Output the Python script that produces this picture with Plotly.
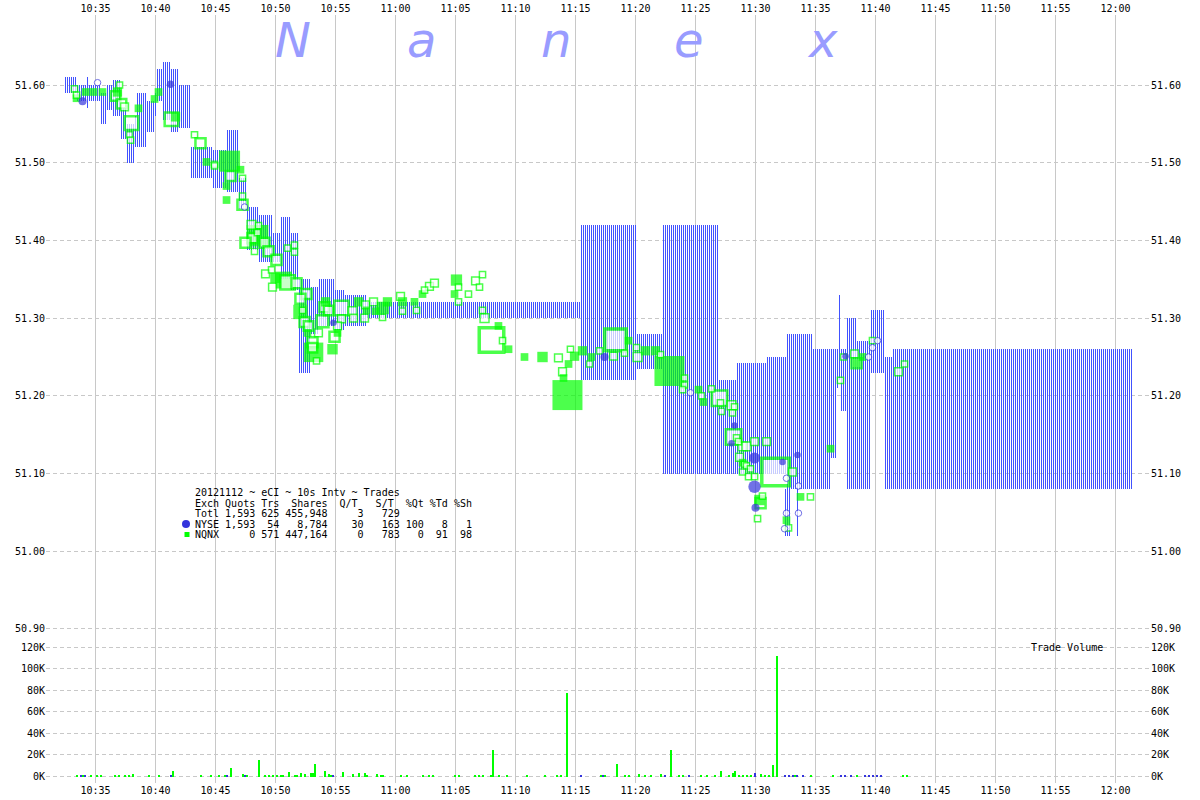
import plotly.graph_objects as go
import math

# ---------------- data ----------------
# time axis: minutes after 10:00
TICK_VALS = [35, 40, 45, 50, 55, 60, 65, 70, 75, 80, 85, 90, 95, 100, 105, 110, 115, 120]
TICK_TEXT = ["10:35", "10:40", "10:45", "10:50", "10:55", "11:00", "11:05", "11:10", "11:15",
             "11:20", "11:25", "11:30", "11:35", "11:40", "11:45", "11:50", "11:55", "12:00"]
PRICE_TICKS = [50.90, 51.00, 51.10, 51.20, 51.30, 51.40, 51.50, 51.60]
VOL_TICKS = [0, 20000, 40000, 60000, 80000, 100000, 120000]
VOL_TEXT = ["0K", "20K", "40K", "60K", "80K", "100K", "120K"]

# quote ranges per 10s interval, given as runs: (start_min, end_min, low, high)
QUOTE_RUNS = [
    (32.58, 33.42, 51.590, 51.610), (33.42, 34.33, 51.580, 51.600), (34.33, 34.50, 51.570, 51.610),
    (34.50, 35.50, 51.580, 51.600), (35.50, 36.00, 51.550, 51.590), (36.00, 36.50, 51.568, 51.600),
    (36.50, 37.17, 51.560, 51.606), (37.17, 37.75, 51.530, 51.570), (37.75, 38.33, 51.500, 51.550),
    (38.33, 38.58, 51.520, 51.560), (38.58, 39.33, 51.520, 51.590), (39.33, 40.00, 51.540, 51.580),
    (40.00, 40.17, 51.560, 51.590), (40.17, 40.67, 51.580, 51.620), (40.67, 41.25, 51.555, 51.630),
    (41.25, 42.08, 51.540, 51.620), (42.08, 43.08, 51.545, 51.600), (43.08, 44.83, 51.480, 51.520),
    (44.83, 46.00, 51.468, 51.516), (46.00, 47.08, 51.462, 51.542), (47.08, 47.67, 51.440, 51.480),
    (47.67, 48.75, 51.388, 51.443), (48.75, 49.83, 51.372, 51.433), (49.83, 50.42, 51.372, 51.410),
    (50.42, 51.25, 51.350, 51.430), (51.25, 51.92, 51.336, 51.410), (51.92, 53.08, 51.230, 51.350),
    (53.08, 53.75, 51.280, 51.340), (53.75, 55.00, 51.290, 51.350), (55.00, 55.83, 51.285, 51.336),
    (55.83, 57.75, 51.290, 51.330),
    (57.75, 75.42, 51.300, 51.321), (75.42, 80.17, 51.220, 51.420), (80.17, 82.25, 51.235, 51.280),
    (82.25, 87.00, 51.100, 51.420), (87.00, 88.58, 51.100, 51.220), (88.58, 91.00, 51.100, 51.242),
    (91.00, 92.67, 51.100, 51.250), (92.67, 94.83, 51.080, 51.280), (94.83, 96.25, 51.080, 51.260),
    (96.25, 96.83, 51.120, 51.260), (96.83, 97.00, 51.210, 51.260), (97.00, 97.17, 51.220, 51.330),
    (97.17, 97.75, 51.180, 51.260), (97.75, 98.58, 51.080, 51.300), (98.58, 99.67, 51.080, 51.270),
    (99.67, 100.83, 51.230, 51.310), (100.83, 101.50, 51.080, 51.250), (101.50, 121.50, 51.080, 51.260),
    (89.92, 90.08, 51.030, 51.100), (92.58, 92.92, 51.020, 51.080), (93.50, 93.67, 51.020, 51.080),
]

# NQNX trades: time (min after 10:00), price, shares, filled (1) / open (0)
NQNX_T = [33.25, 33.42, 33.42, 34.17, 34.83, 35.58, 36.67, 36.83, 37.00, 37.17, 37.42, 38.58, 38.00, 37.83, 37.92,
          39.92, 40.25, 41.33, 41.67, 43.25, 43.75, 44.25, 44.92, 44.92, 46.17, 47.08, 46.25, 47.25, 45.92, 45.92,
          47.25, 47.25, 48.00,
          48.50, 48.08, 48.58, 48.50, 47.50, 48.25, 49.08, 49.42, 50.08, 49.17, 49.67, 50.00, 50.67, 51.00, 51.75,
          49.75, 51.00, 51.58, 51.58, 52.58, 52.08, 52.08, 52.25, 52.42, 52.75, 52.67, 53.58, 53.17, 53.08, 53.42,
          53.08, 54.75, 54.92, 55.17, 53.92, 54.08, 54.17, 54.42, 55.50, 55.50, 55.17, 56.42, 56.50, 56.92, 57.42,
          57.50, 57.58, 58.17, 58.33, 58.92, 58.92, 59.33, 60.42, 60.58, 60.58, 61.58, 61.75, 62.25, 62.42, 62.83,
          63.25, 65.08, 64.92, 65.25, 65.25, 66.08, 66.67, 67.25, 67.00, 67.25, 67.42, 68.00, 68.58, 68.92, 69.42,
          70.75, 72.25,
          73.58, 73.92, 74.00, 74.42, 74.58, 74.92, 75.58, 76.17, 76.33, 74.33, 77.00, 78.17, 78.33, 79.42, 79.08,
          80.08, 80.17, 80.83, 81.67, 82.08, 82.83, 84.08, 84.08, 83.92,
          85.25, 85.50, 85.67, 86.33, 87.00, 87.08, 87.17, 88.00, 88.25, 88.08, 88.17, 88.42, 88.58, 88.92, 89.25,
          89.92, 90.92, 88.67, 88.92, 89.08, 89.25, 88.92, 89.42, 89.92, 89.58, 91.67, 93.08, 90.42, 90.33, 90.58,
          90.17, 93.75, 94.58, 92.58, 92.75, 96.25,
          97.08, 97.33, 98.25, 98.42, 98.42, 98.92, 99.75, 101.92, 102.42]
NQNX_P = [51.595, 51.583, 51.587, 51.591, 51.591, 51.591, 51.586, 51.591, 51.600, 51.576, 51.572, 51.570, 51.551, 51.536, 51.529,
          51.582, 51.591, 51.556, 51.559, 51.536, 51.525, 51.501, 51.498, 51.496, 51.502, 51.491, 51.483, 51.480, 51.470, 51.452,
          51.457, 51.446, 51.420,
          51.406, 51.403, 51.419, 51.410, 51.397, 51.386, 51.397, 51.386, 51.375, 51.357, 51.362, 51.352, 51.349, 51.346, 51.345,
          51.340, 51.390, 51.394, 51.385, 51.331, 51.325, 51.308, 51.310, 51.295, 51.290, 51.281, 51.281, 51.256, 51.262, 51.245,
          51.269, 51.260, 51.276, 51.281, 51.296, 51.314, 51.321, 51.310, 51.313, 51.299, 51.290, 51.309, 51.300, 51.321, 51.300,
          51.317, 51.310, 51.321, 51.309, 51.313, 51.301, 51.321, 51.328, 51.321, 51.309, 51.321, 51.310, 51.331, 51.336, 51.341,
          51.345, 51.349, 51.331, 51.340, 51.321, 51.331, 51.348, 51.356, 51.340, 51.310, 51.300, 51.272, 51.290, 51.271, 51.260,
          51.250, 51.250,
          51.249, 51.231, 51.223, 51.241, 51.260, 51.251, 51.258, 51.241, 51.250, 51.201, 51.258, 51.251, 51.272, 51.271, 51.255,
          51.262, 51.250, 51.258, 51.258, 51.253, 51.232, 51.223, 51.214, 51.208,
          51.208, 51.200, 51.192, 51.209, 51.197, 51.191, 51.180, 51.188, 51.186, 51.178, 51.147, 51.146, 51.141, 51.135, 51.135,
          51.141, 51.141, 51.121, 51.114, 51.112, 51.110, 51.102, 51.096, 51.096, 51.106, 51.102, 51.102, 51.062, 51.066, 51.071,
          51.042, 51.070, 51.070, 51.040, 51.030, 51.132,
          51.220, 51.250, 51.254, 51.242, 51.242, 51.250, 51.271, 51.231, 51.241]
NQNX_SH = [100, 100, 100, 100, 100, 100, 500, 200, 100, 500, 200, 100, 1600, 100, 100,
           100, 100, 1600, 200, 100, 600, 100, 100, 100, 6000, 100, 600, 100, 100, 100,
           100, 600, 300,
           7000, 600, 100, 100, 600, 100, 600, 600, 600, 200, 100, 300, 2000, 2000, 600,
           200, 100, 100, 100, 600, 600, 1000, 100, 600, 500, 100, 200, 4000, 500, 100,
           600, 300, 600, 100, 1000, 600, 200, 500, 2000, 200, 200, 300, 200, 200, 200,
           200, 100, 200, 100, 600, 100, 200, 200, 200, 100, 100, 100, 100, 100, 200,
           200, 400, 100, 100, 100, 100, 200, 100, 100, 100, 300, 36000, 100, 100, 100,
           100, 300,
           200, 200, 100, 100, 100, 200, 200, 100, 100, 60000, 100, 200, 17000, 100, 100,
           100, 300, 200, 200, 100, 60000, 100, 100, 100,
           100, 100, 100, 100, 2700, 100, 100, 300, 100, 100, 2700, 100, 100, 300, 300,
           200, 200, 200, 100, 100, 100, 100, 100, 100, 100, 100000, 200, 600, 300, 100,
           100, 100, 100, 100, 100, 100,
           100, 100, 200, 600, 100, 100, 100, 200, 100]
NQNX_FILL = [0, 1, 0, 1, 1, 1, 0, 1, 0, 0, 0, 1, 0, 0, 0,
             1, 1, 0, 1, 0, 0, 1, 0, 0, 1, 1, 0, 0, 1, 1,
             0, 0, 0,
             1, 0, 0, 0, 0, 0, 0, 0, 0, 0, 0, 1, 1, 0, 0,
             0, 0, 0, 0, 0, 0, 1, 0, 0, 0, 1, 0, 1, 0, 0,
             0, 1, 0, 1, 0, 0, 1, 0, 0, 0, 0, 0, 0, 1, 0,
             0, 1, 0, 1, 1, 0, 1, 0, 1, 0, 1, 0, 1, 0, 0,
             0, 1, 1, 0, 0, 0, 0, 0, 0, 0, 0, 0, 1, 0, 1,
             1, 1,
             0, 0, 1, 1, 0, 1, 1, 0, 1, 1, 0, 0, 0, 1, 0,
             0, 0, 1, 1, 0, 1, 0, 0, 0,
             1, 0, 1, 0, 0, 0, 0, 0, 0, 0, 0, 0, 0, 0, 0,
             0, 0, 0, 1, 0, 0, 0, 0, 0, 0, 0, 0, 0, 1, 0,
             0, 1, 0, 1, 0, 1,
             0, 0, 0, 0, 1, 1, 0, 0, 0]

# NYSE trades
NYSE_T = [33.92, 35.17, 41.25, 47.42, 54.83, 77.42, 84.58, 88.25, 88.00, 89.92, 89.92, 90.00,
          92.25, 93.50, 92.58, 93.58, 92.58, 93.58, 92.42, 97.50, 99.42, 99.75, 100.17]
NYSE_P = [51.579, 51.603, 51.601, 51.443, 51.294, 51.250, 51.204, 51.162, 51.139, 51.120, 51.083, 51.056,
          51.115, 51.124, 51.094, 51.084, 51.049, 51.049, 51.029, 51.251, 51.250, 51.262, 51.271]
NYSE_SH = [300, 100, 200, 100, 100, 300, 100, 100, 100, 1500, 3000, 300,
           100, 100, 100, 100, 100, 100, 100, 100, 100, 100, 100]
NYSE_FILL = [1, 0, 1, 0, 1, 1, 0, 1, 1, 1, 1, 1,
             1, 1, 0, 0, 0, 0, 0, 1, 0, 0, 0]

# trade volume per 10s interval
VOL_Q_T = [33.50, 34.00, 34.67, 35.17, 35.50, 36.67, 37.00, 37.50, 37.83, 38.17, 39.50, 40.33, 41.50,
           43.83, 44.67, 45.33, 45.83, 46.33, 47.33, 47.67, 48.67, 49.17, 49.50, 49.83, 50.17, 50.50, 50.67,
           51.17, 51.67, 51.83, 52.17, 52.50, 53.00, 53.17, 53.33, 54.17, 54.50, 54.67, 55.67, 56.50, 57.00,
           57.50, 57.67, 58.50, 58.83, 59.00, 60.50, 61.00, 62.33, 62.83, 63.17, 65.00, 65.33, 66.67, 67.00,
           67.33, 68.00, 68.17, 68.67, 69.33, 71.00, 72.50, 73.50, 73.83, 74.33, 77.17, 77.50, 78.50, 79.17,
           79.50, 80.33, 80.83, 81.33, 82.17, 83.00, 83.67, 84.00, 84.50, 85.50, 86.00, 86.67, 87.17, 87.83,
           88.17, 88.33, 88.67, 89.00, 89.33, 89.67, 90.50, 90.83, 91.17, 91.50, 91.83, 93.33, 94.67, 96.50,
           98.50, 102.33, 102.67]
VOL_Q_V = [600, 600, 600, 700, 600, 1800, 800, 1000, 1500, 2000, 600, 600, 5500,
           1000, 600, 600, 700, 7500, 2000, 1000, 15000, 1500, 1500, 1500, 1500, 1500, 1000,
           4500, 1500, 1500, 3500, 2000, 3000, 3000, 12000, 5500, 2000, 1500, 4500, 2000, 3500,
           3500, 1500, 2000, 1500, 1500, 600, 600, 600, 600, 600, 600, 600, 1000, 600,
           600, 1500, 25000, 600, 600, 600, 600, 600, 1500, 77000, 600, 600, 12000, 600,
           600, 2000, 600, 600, 2000, 25000, 600, 600, 600, 600, 600, 600, 5500, 1500,
           3000, 5000, 600, 1500, 1500, 600, 2000, 600, 600, 10500, 112000, 600, 600, 600,
           1500, 600, 600]
VOL_N_T = [33.83, 34.17, 41.33, 46.00, 47.50, 54.83, 75.50, 77.33, 82.50, 84.50, 90.00, 92.50, 92.83,
           93.17, 93.50, 94.00, 97.17, 97.50, 98.00, 99.17, 99.50, 99.83, 100.17, 100.50]
VOL_N_V = [600, 600, 500, 600, 600, 600, 600, 600, 600, 600, 3000, 600, 600,
           600, 600, 600, 600, 600, 600, 600, 600, 600, 600, 600]

LEGEND_LINES = [
    "20121112 ~ eCI ~ 10s Intv ~ Trades",
    "Exch Quots Trs  Shares  Q/T   S/T  %Qt %Td %Sh",
    "Totl 1,593 625 455,948     3   729",
    "NYSE 1,593  54   8,784    30   163 100   8   1",
    "NQNX     0 571 447,164     0   783   0  91  98",
]
WATERMARK = ["N", "a", "n", "e", "x"]

# ---------------- styling / geometry ----------------
W, H = 1200, 800
ML, MR, MT, MB = 46, 50, 15, 17
PW, PH = W - ML - MR, H - MT - MB
X0, X1 = 30.875, 122.875
SPLIT = (783 - 638) / PH
P0, P1 = 50.8884, 51.6901
V0, V1 = -6020, 128360

GREEN = "#00ff00"
QBLUE = "#4152ff"
NBLUE = "#3434dc"
GRID = "#c8c8c8"
MONO = "DejaVu Sans Mono"

def px_to_paper(x, y):
    return (x - ML) / PW, (H - MB - y) / PH

fig = go.Figure()

# quote ranges as thin bars (one per 10s interval)
qx, qlo, qh = [], [], []
for s, e, lo, hi in QUOTE_RUNS:
    for k in range(round(s * 6), round(e * 6)):
        qx.append(k / 6)
        qlo.append(lo)
        qh.append(hi - lo)
fig.add_trace(go.Bar(x=qx, y=qh, base=qlo, width=1 / 12,
                     marker=dict(color=QBLUE, line=dict(width=0)),
                     hoverinfo="skip", xaxis="x", yaxis="y"))

# NQNX trades (bigger first)
def sq_size(sh):
    return min(31.0, 5 + 9 * math.log10(1 + sh / 100))

order = sorted(range(len(NQNX_T)), key=lambda i: -NQNX_SH[i])
xs, ys, sizes, fills, lws = [], [], [], [], []
for i in order:
    s = sq_size(NQNX_SH[i])
    if NQNX_FILL[i]:
        lw = 0
        fills.append(GREEN)
    else:
        lw = 1.5 if s < 12 else (2.5 if s < 22 else 3.5)
        fills.append("white")
    xs.append(NQNX_T[i]); ys.append(NQNX_P[i]); sizes.append(s - lw); lws.append(lw)
fig.add_trace(go.Scatter(x=xs, y=ys, mode="markers", hoverinfo="skip", xaxis="x", yaxis="y",
                         marker=dict(symbol="square", size=sizes, color=fills,
                                     line=dict(color=GREEN, width=lws))))

# NYSE trades
ny_sizes = [5 + 5 * math.log10(1 + v / 100) for v in NYSE_SH]
fig.add_trace(go.Scatter(x=NYSE_T, y=NYSE_P, mode="markers", hoverinfo="skip", xaxis="x", yaxis="y",
                         marker=dict(symbol="circle", size=ny_sizes,
                                     color=[NBLUE if f else "white" for f in NYSE_FILL],
                                     line=dict(color=NBLUE, width=[0 if f else 1 for f in NYSE_FILL]))))

# volume bars
fig.add_trace(go.Bar(x=[round(t * 6) / 6 for t in VOL_Q_T], y=VOL_Q_V, width=1 / 6, offset=-0.125,
                     marker=dict(color=GREEN, line=dict(width=0)), hoverinfo="skip",
                     xaxis="x", yaxis="y2"))
fig.add_trace(go.Bar(x=[round(t * 6) / 6 for t in VOL_N_T], y=VOL_N_V, width=1 / 6, offset=-0.125,
                     marker=dict(color=NBLUE, line=dict(width=0)), hoverinfo="skip",
                     xaxis="x", yaxis="y2"))

# empty traces for the mirrored axes
fig.add_trace(go.Scatter(x=[], y=[], xaxis="x2", yaxis="y", hoverinfo="skip"))
fig.add_trace(go.Scatter(x=[], y=[], xaxis="x", yaxis="y3", hoverinfo="skip"))
fig.add_trace(go.Scatter(x=[], y=[], xaxis="x", yaxis="y4", hoverinfo="skip"))

tickfont = dict(family=MONO, size=10, color="black")
common_x = dict(range=[X0, X1], tickvals=TICK_VALS, ticktext=TICK_TEXT, tickfont=tickfont,
                zeroline=False, showline=False, ticks="", fixedrange=True, automargin=False)
common_y = dict(tickfont=tickfont, ticks="", zeroline=False, showline=False, automargin=False)
fig.update_layout(
    width=W, height=H, margin=dict(l=ML, r=MR, t=MT, b=MB, autoexpand=False),
    paper_bgcolor="white", plot_bgcolor="white", showlegend=False, barmode="overlay", bargap=0,
    xaxis=dict(common_x, domain=[0, 1], anchor="y2", side="bottom",
               showgrid=True, gridcolor=GRID, gridwidth=1),
    xaxis2=dict(common_x, overlaying="x", anchor="y", side="top", showgrid=False),
    yaxis=dict(common_y, domain=[SPLIT, 1], range=[P0, P1], anchor="x", tickvals=PRICE_TICKS,
               ticktext=[f"{v:.2f}" for v in PRICE_TICKS],
               showgrid=True, gridcolor=GRID, griddash="4px,3px", gridwidth=1),
    yaxis2=dict(common_y, domain=[0, SPLIT], range=[V0, V1], anchor="x", tickvals=VOL_TICKS,
                ticktext=VOL_TEXT,
                showgrid=True, gridcolor=GRID, griddash="4px,3px", gridwidth=1),
    yaxis3=dict(common_y, overlaying="y", side="right", anchor="x", range=[P0, P1], tickvals=PRICE_TICKS,
                ticktext=[f"{v:.2f}" for v in PRICE_TICKS], showgrid=False),
    yaxis4=dict(common_y, overlaying="y2", side="right", anchor="x", range=[V0, V1], tickvals=VOL_TICKS,
                ticktext=VOL_TEXT, showgrid=False),
)

annotations = []
# watermark
for letter, cx in zip(WATERMARK, [293, 421, 556, 689, 822]):
    ax, ay = px_to_paper(cx, 40)
    annotations.append(dict(text=letter, x=ax, y=ay, xref="paper", yref="paper", showarrow=False,
                            xanchor="center", yanchor="middle",
                            font=dict(family="DejaVu Sans", size=48, color="#999cff", style="italic")))
# legend block
for line, cy in zip(LEGEND_LINES, [492, 503, 513.5, 524, 534.5]):
    ax, ay = px_to_paper(193, cy)
    annotations.append(dict(text=line.replace(" ", "\u00a0"), x=ax, y=ay, xref="paper", yref="paper",
                            showarrow=False, xanchor="left", yanchor="middle",
                            font=dict(family=MONO, size=10, color="black")))
ax, ay = px_to_paper(1067, 647)
annotations.append(dict(text="Trade\u00a0Volume", x=ax, y=ay, xref="paper", yref="paper", showarrow=False,
                        xanchor="center", yanchor="middle", font=dict(family=MONO, size=10, color="black")))
fig.update_layout(annotations=annotations)

# legend glyphs
c0x, c0y = px_to_paper(182, 520)
c1x, c1y = px_to_paper(190, 528)
s0x, s0y = px_to_paper(184.5, 532)
s1x, s1y = px_to_paper(189.5, 537)
fig.update_layout(shapes=[
    dict(type="circle", xref="paper", yref="paper", x0=c0x, y0=c0y, x1=c1x, y1=c1y,
         fillcolor=NBLUE, line=dict(width=0)),
    dict(type="rect", xref="paper", yref="paper", x0=s0x, y0=s0y, x1=s1x, y1=s1y,
         fillcolor=GREEN, line=dict(width=0)),
])

fig.write_html("out.html", config={"displayModeBar": False},
               post_script="document.body.style.margin='0px';")
